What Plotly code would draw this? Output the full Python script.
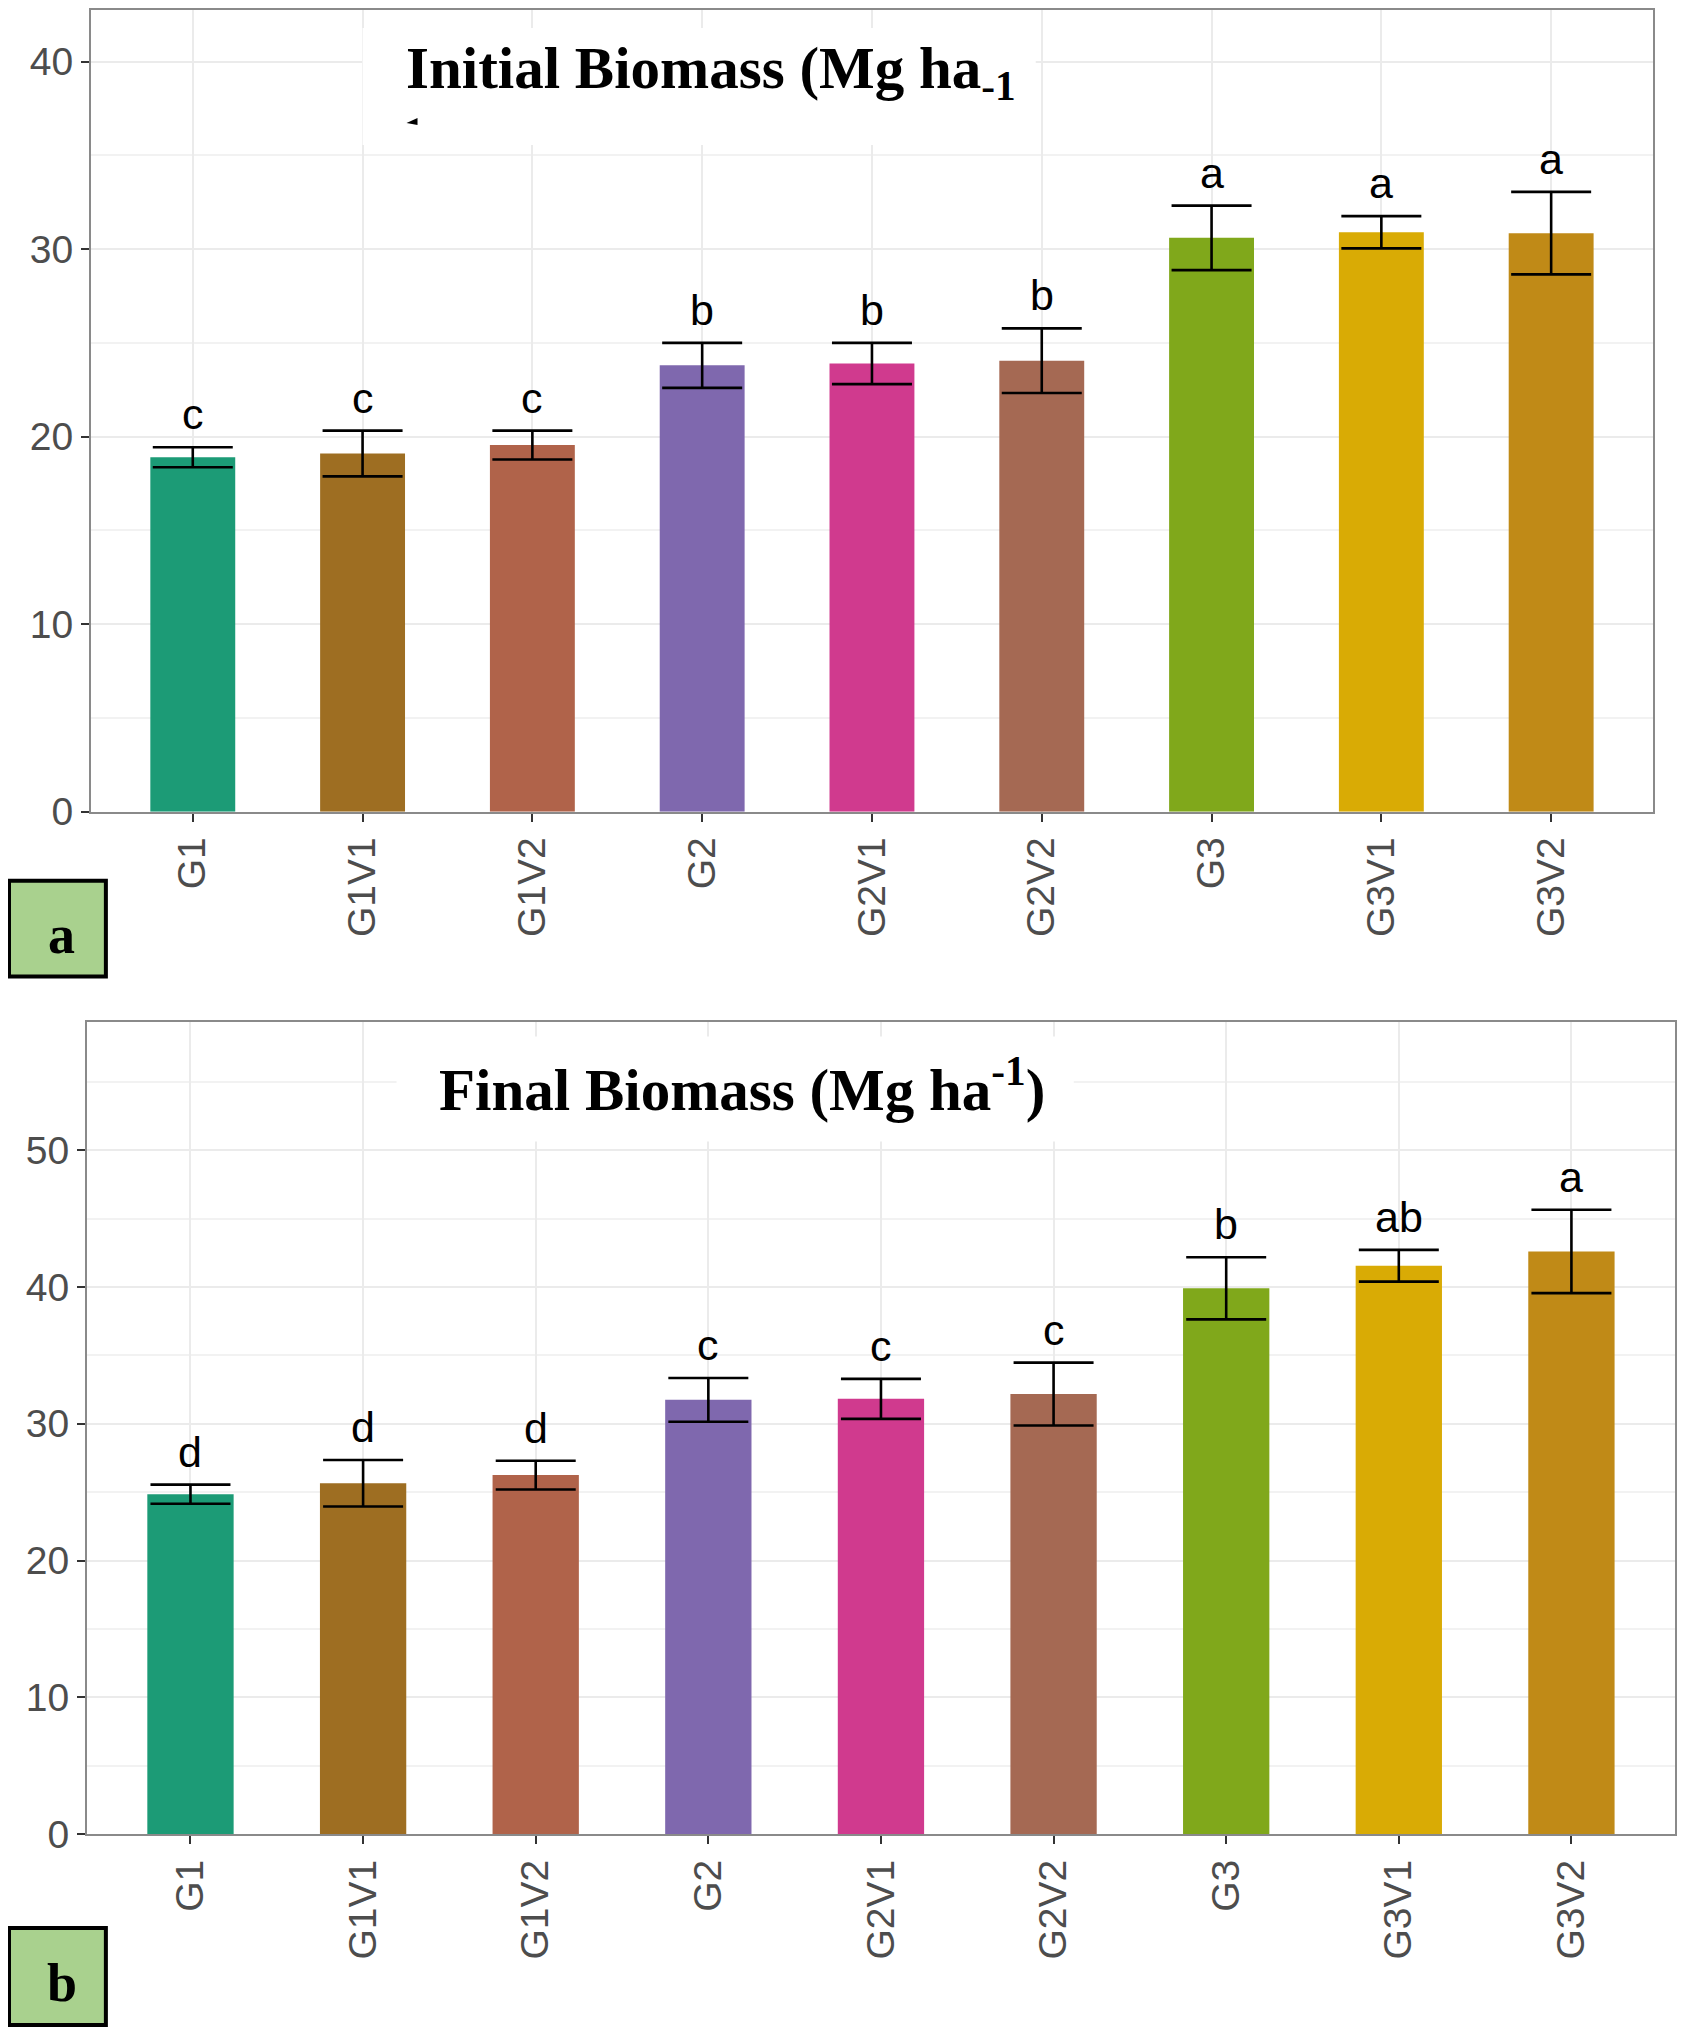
import plotly.graph_objects as go

W, H = 1685, 2032
PAD = 8      # default body margin of the html page
KY = 1.0114  # the shot comes back a little squeezed vertically
FW = W - 2 * PAD
FH = int(round(H * KY)) - 2 * PAD

# data
treatments = ["G1", "G1V1", "G1V2", "G2", "G2V1", "G2V2", "G3", "G3V1", "G3V2"]
bar_colors = ["#1C9B76", "#9E6E22", "#B0634A", "#7F68AE", "#D03A8E",
              "#A56953", "#80A81B", "#D9AB05", "#C08A17"]

initial_mean = [18.9, 19.1, 19.55, 23.8, 23.9, 24.05, 30.6, 30.9, 30.85]
initial_se = [0.53, 1.22, 0.77, 1.2, 1.1, 1.72, 1.72, 0.86, 2.2]
initial_letters = ["c", "c", "c", "b", "b", "b", "a", "a", "a"]

final_mean = [24.85, 25.65, 26.25, 31.75, 31.82, 32.17, 39.9, 41.55, 42.6]
final_se = [0.7, 1.7, 1.05, 1.6, 1.46, 2.3, 2.27, 1.16, 3.05]
final_letters = ["d", "d", "d", "c", "c", "c", "b", "ab", "a"]


# reference pixel -> paper coordinates
def px(x):
    return min(1.0, max(0.0, (x - PAD) / FW))


def py(y):
    return min(1.0, max(0.0, 1 - (y * KY - PAD) / FH))


fig = go.Figure()

panels = [
    (initial_mean, initial_se, initial_letters, "x", "y"),
    (final_mean, final_se, final_letters, "x2", "y2"),
]
for means, ses, letters, xa, ya in panels:
    fig.add_trace(go.Bar(
        x=treatments, y=means, width=0.5,
        marker=dict(color=bar_colors, line=dict(width=0)),
        error_y=dict(type="data", array=ses, visible=True,
                     color="black", thickness=2.6, width=40),
        xaxis=xa, yaxis=ya, showlegend=False))
    for t, m, s, lab in zip(treatments, means, ses, letters):
        fig.add_annotation(x=t, y=m + s, xref=xa, yref=ya, text=lab,
                           showarrow=False, xanchor="center", yanchor="bottom", yshift=7,
                           font=dict(family="Liberation Sans", size=43, color="black"))

axis_common = dict(
    showline=True, mirror=True, linecolor="#8A8A8A", linewidth=2,
    ticks="outside", ticklen=8, tickwidth=2, tickcolor="#333333",
    tickfont=dict(family="Liberation Sans", size=39, color="#4D4D4D"),
    showgrid=True, gridcolor="#EBEBEB", gridwidth=2, zeroline=False,
)

fig.update_layout(
    width=FW, height=FH,
    margin=dict(l=0, r=0, t=0, b=0),
    paper_bgcolor="white", plot_bgcolor="white",
    bargap=0.5,
    xaxis=dict(domain=[px(91), px(1655)], anchor="y", type="category",
               range=[-0.6, 8.6], tickangle=-90, **axis_common),
    yaxis=dict(domain=[py(810), py(6)], anchor="x", range=[0, 42.75],
               dtick=10, minor=dict(dtick=5, showgrid=True, gridcolor="#F2F2F2", gridwidth=1.5),
               **axis_common),
    xaxis2=dict(domain=[px(87), px(1680)], anchor="y2", type="category",
                range=[-0.6, 8.6], tickangle=-90, **axis_common),
    yaxis2=dict(domain=[py(1833), py(1020)], anchor="x2", range=[0, 59.4],
                dtick=10, minor=dict(dtick=5, showgrid=True, gridcolor="#F2F2F2", gridwidth=1.5),
                **axis_common),
)

# white boxes behind the pasted-in titles, then the titles
fig.add_shape(type="rect", xref="paper", yref="paper",
              x0=px(363), x1=px(1037), y0=py(143), y1=py(26),
              fillcolor="white", line=dict(width=0), layer="above")
fig.add_shape(type="rect", xref="paper", yref="paper",
              x0=px(397), x1=px(1075), y0=py(1140), y1=py(1035),
              fillcolor="white", line=dict(width=0), layer="above")

fig.add_annotation(x=px(404), y=py(70), xref="paper", yref="paper",
                   xanchor="left", yanchor="middle", showarrow=False,
                   text="<b>Initial Biomass (Mg ha<sub>-1</sub></b>",
                   font=dict(family="Liberation Serif", size=59, color="black"))
# clipped remains of the wrapped "1" under the first title
fig.add_shape(type="path", xref="paper", yref="paper",
              path="M %f,%f L %f,%f L %f,%f Z" % (px(407), py(121), px(418), py(116),
                                                  px(418), py(123)),
              fillcolor="black", line=dict(width=0), layer="above")
fig.add_annotation(x=px(743), y=py(1084), xref="paper", yref="paper",
                   xanchor="center", yanchor="middle", showarrow=False,
                   text="<b>Final Biomass (Mg ha<sup>-1</sup>)</b>",
                   font=dict(family="Liberation Serif", size=59, color="black"))

# panel tags
for label, top, bot in [("a", 879, 975), ("b", 1927, 2024)]:
    fig.add_shape(type="rect", xref="paper", yref="paper",
                  x0=px(9), x1=px(106), y0=py(bot), y1=py(top),
                  fillcolor="#A9D18E", line=dict(color="black", width=4))
    fig.add_annotation(x=px(62), y=py((top + bot) / 2 + 6), xref="paper", yref="paper",
                       xanchor="center", yanchor="middle",
                       text="<b>%s</b>" % label, showarrow=False,
                       font=dict(family="Liberation Serif", size=54, color="black"))

fig.write_html("out.html")
